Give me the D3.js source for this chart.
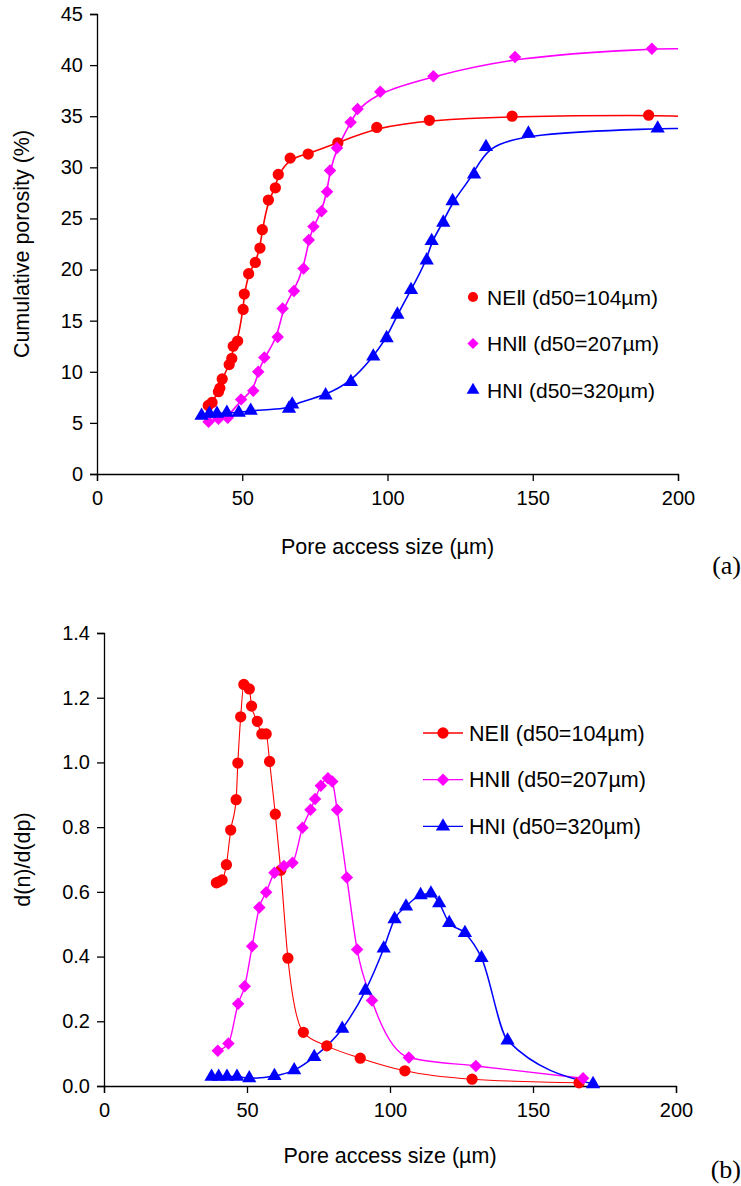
<!DOCTYPE html>
<html><head><meta charset="utf-8">
<script src="https://cdn.jsdelivr.net/npm/d3@7"></script>
<style>body{margin:0;background:#fff}svg{display:block}</style>
</head><body><svg id="c" width="741" height="1186" font-family="Liberation Sans, Arial, sans-serif"></svg>
<script>
// ---------- data: (a) cumulative porosity ----------
const seriesNames = ["NEⅡ (d50=104µm)", "HNⅡ (d50=207µm)", "HNI (d50=320µm)"];
const seriesColors = ["#FF0000", "#FF00FF", "#0000FF"];
const seriesSymbols = ["circle", "diamond", "triangle"];

const aNeiiX = [38.3,39.6,41.8,42.3,43.1,45.5,46.4,46.9,48.4,50.3,50.7,52.2,54.5,56.1,56.9,59.0,61.4,62.4,66.5,72.7,82.9,96.3,114.4,142.9,189.9];
const aNeiiY = [6.7,7.0,8.05,8.4,9.3,10.7,11.3,12.5,13.0,16.1,17.6,19.6,20.7,22.1,23.9,26.8,28.0,29.3,30.9,31.3,32.4,33.9,34.6,35.0,35.1];
const aHniiX = [38.4,41.8,45.0,49.6,53.8,55.5,57.6,62.2,63.9,67.8,71.1,72.9,74.5,77.3,79.2,80.2,82.6,87.3,89.7,97.5,115.8,143.9,191.0];
const aHniiY = [5.1,5.4,5.5,7.3,8.15,10.0,11.4,13.4,16.2,17.9,20.1,22.9,24.2,25.7,27.6,29.7,31.9,34.4,35.7,37.4,38.9,40.8,41.6];
const aHniX = [36.0,38.7,41.3,44.7,48.8,52.9,66.1,67.2,78.7,87.4,95.1,99.7,103.4,108.1,113.5,115.2,119.2,122.4,129.8,133.9,148.5,193.0];
const aHniY = [5.7,5.9,5.9,6.0,6.0,6.2,6.4,6.8,7.7,9.0,11.5,13.3,15.6,18.0,20.9,22.8,24.6,26.7,29.3,32.0,33.3,33.8];
// smoothed line continues to the axis end (no marker)
const aLineEndX = [200, 200, 200];
const aLineEndY = [35.0, 41.6, 33.8];

// ---------- data: (b) d(n)/d(dp) ----------
const bNeiiX = [39.3,40.1,41.3,42.8,44.3,46.2,46.8,47.8,48.9,50.8,51.6,53.6,55.2,56.7,57.9,59.9,61.8,64.3,69.7,77.9,89.6,105.2,128.7,166.1];
const bNeiiY = [0.628,0.631,0.637,0.684,0.791,0.885,0.998,1.141,1.241,1.227,1.174,1.127,1.088,1.088,1.003,0.840,0.667,0.395,0.166,0.124,0.086,0.047,0.021,0.010];
const bHniiX = [39.8,43.5,46.9,49.2,51.8,54.3,56.7,59.6,62.9,65.9,69.4,72.2,73.8,75.8,78.3,79.8,81.5,84.9,88.5,93.7,106.6,130.0,167.5];
const bHniiY = [0.109,0.131,0.254,0.308,0.432,0.552,0.599,0.659,0.680,0.690,0.798,0.854,0.887,0.928,0.951,0.941,0.854,0.644,0.422,0.264,0.088,0.062,0.024];
const bHniX = [37.6,40.1,43.0,46.5,50.8,59.6,66.5,73.5,83.3,91.4,97.8,101.6,105.6,110.7,114.3,117.2,120.7,126.2,132.0,141.1,171.0];
const bHniY = [0.029,0.029,0.029,0.029,0.024,0.031,0.049,0.090,0.177,0.295,0.425,0.516,0.555,0.590,0.595,0.565,0.504,0.473,0.396,0.141,0.006];

const xTicks = [0,50,100,150,200];
const aYTicks = [0,5,10,15,20,25,30,35,40,45];
const bYTicks = [0,0.2,0.4,0.6,0.8,1.0,1.2,1.4];
const xTitle = "Pore access size (µm)";
const aYTitle = "Cumulative porosity (%)";
const bYTitle = "d(n)/d(dp)";
const panelLabels = ["(a)", "(b)"];

// ---------- drawing ----------
const svg = d3.select("#c");
svg.append("rect").attr("width",741).attr("height",1186).attr("fill","#fff");

const symType = {circle: d3.symbolCircle, diamond: d3.symbolSquare, triangle: d3.symbolTriangle};
const symSize = {circle: 100, diamond: 78, triangle: 88};
const symRot = {circle: 0, diamond: 45, triangle: 0};
function marker(g, name, color, x, y, scale=1){
  g.append("path").attr("d", d3.symbol().type(symType[name]).size(symSize[name]*scale)())
   .attr("transform", `translate(${x},${y}) rotate(${symRot[name]})`).attr("fill", color);
}
function zip(xs, ys){ return xs.map((x,i)=>[x, ys[i]]); }

function drawPanel(cfg){
  const x = d3.scaleLinear().domain([0,200]).range([cfg.x0, cfg.x1]);
  const y = d3.scaleLinear().domain(cfg.yDomain).range([cfg.y0, cfg.y1]);
  const g = svg.append("g");

  const xAxis = g.append("g").attr("transform",`translate(0,${cfg.y0})`)
    .call(d3.axisBottom(x).tickValues(xTicks).tickSize(7).tickPadding(10).tickFormat(d3.format("d")));
  const yAxis = g.append("g").attr("transform",`translate(${cfg.x0},0)`)
    .call(d3.axisLeft(y).tickValues(cfg.yTicks).tickSize(7).tickPadding(7).tickFormat(cfg.yFmt));
  [xAxis, yAxis].forEach(a=>{
    a.attr("font-family",null).attr("font-size",null);
    a.select(".domain").attr("stroke","#000").attr("stroke-width",1.3);
    a.selectAll(".tick line").attr("stroke","#000").attr("stroke-width",1.3);
    a.selectAll(".tick text").attr("fill","#000").attr("font-size",20);
  });

  g.append("text").attr("x",(cfg.x0+cfg.x1)/2).attr("y",cfg.xTitleY).attr("text-anchor","middle")
    .attr("font-size",21.5).attr("fill","#000").text(xTitle);
  g.append("text").attr("transform",`translate(${cfg.yTitleX},${(cfg.y0+cfg.y1)/2}) rotate(-90)`)
    .attr("text-anchor","middle").attr("font-size",21.5).attr("fill","#000").text(cfg.yTitle);
  g.append("text").attr("x",741).attr("y",cfg.panelY).attr("text-anchor","end")
    .attr("font-family","Liberation Serif, Times New Roman, serif").attr("font-size",26)
    .attr("fill","#000").text(cfg.panel);

  cfg.series.forEach((s,i)=>{
    const line = d3.line().x(d=>x(d[0])).y(d=>y(d[1])).curve(cfg.curve);
    g.append("path").attr("d", line(s.line)).attr("fill","none")
      .attr("stroke", seriesColors[i]).attr("stroke-width", cfg.lw[i]);
  });
  cfg.series.forEach((s,i)=>{
    s.pts.forEach(p=> marker(g, seriesSymbols[i], seriesColors[i], x(p[0]), y(p[1])));
  });

  // legend
  seriesNames.forEach((n,i)=>{
    const ly = cfg.legY + i*cfg.legDy;
    if (cfg.legLine) g.append("line").attr("x1",cfg.legX-20).attr("x2",cfg.legX+20)
        .attr("y1",ly).attr("y2",ly).attr("stroke",seriesColors[i]).attr("stroke-width",1.3);
    marker(g, seriesSymbols[i], seriesColors[i], cfg.legX, ly, cfg.legScale);
    g.append("text").attr("x",cfg.legTextX).attr("y",ly).attr("dy","0.36em")
      .attr("font-size",cfg.legFont).attr("fill","#000").text(n);
  });
}

drawPanel({
  x0:97, x1:678, y0:474, y1:14, yDomain:[0,45], yTicks:aYTicks, yFmt:d3.format("d"),
  xTitleY:554, yTitleX:29, yTitle:aYTitle, panel:panelLabels[0], panelY:574,
  curve: d3.curveBasis, lw:[1.6,1.6,1.6],
  series:[
    {pts: zip(aNeiiX,aNeiiY), line: zip(aNeiiX.concat([aLineEndX[0]]), aNeiiY.concat([aLineEndY[0]]))},
    {pts: zip(aHniiX,aHniiY), line: zip(aHniiX.concat([aLineEndX[1]]), aHniiY.concat([aLineEndY[1]]))},
    {pts: zip(aHniX,aHniY),   line: zip(aHniX.concat([aLineEndX[2]]),  aHniY.concat([aLineEndY[2]]))}
  ],
  legX:473, legTextX:487, legY:297, legDy:46.5, legLine:false, legScale:0.8, legFont:21
});

drawPanel({
  x0:104, x1:676, y0:1086, y1:633, yDomain:[0,1.4], yTicks:bYTicks, yFmt:d3.format(".1f"),
  xTitleY:1163, yTitleX:30, yTitle:bYTitle, panel:panelLabels[1], panelY:1178,
  curve: d3.curveMonotoneX, lw:[1.1,1.4,1.5],
  series:[
    {pts: zip(bNeiiX,bNeiiY), line: zip(bNeiiX,bNeiiY)},
    {pts: zip(bHniiX,bHniiY), line: zip(bHniiX,bHniiY)},
    {pts: zip(bHniX,bHniY),   line: zip(bHniX,bHniY)}
  ],
  legX:443, legTextX:469, legY:733, legDy:46.7, legLine:true, legScale:1, legFont:21.5
});
</script></body></html>
